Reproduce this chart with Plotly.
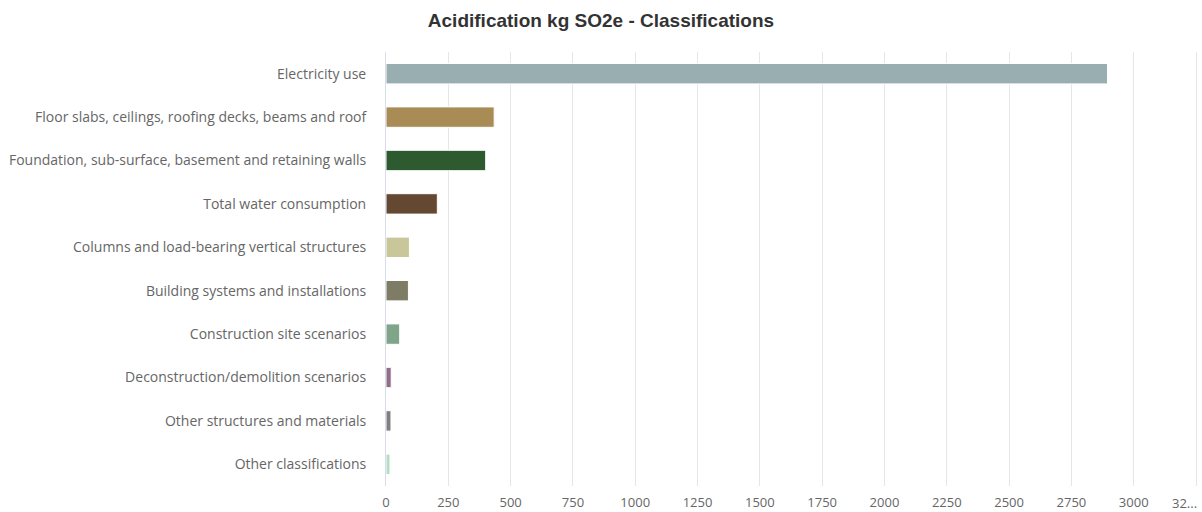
import plotly.graph_objects as go

# Acidification (kg SO2e) by building classification
categories = [
    "Electricity use",
    "Floor slabs, ceilings, roofing decks, beams and roof",
    "Foundation, sub-surface, basement and retaining walls",
    "Total water consumption",
    "Columns and load-bearing vertical structures",
    "Building systems and installations",
    "Construction site scenarios",
    "Deconstruction/demolition scenarios",
    "Other structures and materials",
    "Other classifications",
]
values = [2895, 434, 400, 206, 94, 90, 55, 21, 20, 16]
colors = [
    "#98aeb0", "#a98b55", "#2d5a2e", "#644832", "#c9c799",
    "#7f7c66", "#80a48a", "#8e6f87", "#7f7f7f", "#b5dcc5",
]
tick_values = [0, 250, 500, 750, 1000, 1250, 1500, 1750, 2000, 2250, 2500, 2750, 3000, 3250]
tick_labels = ["0", "250", "500", "750", "1000", "1250", "1500", "1750", "2000",
               "2250", "2500", "2750", "3000", ""]
# last tick sits on the right edge; its shortened label is right-aligned to it
edge_tick = tick_values[-1]
edge_label = "32..."

fig = go.Figure(
    go.Bar(
        x=values,
        y=categories,
        orientation="h",
        marker=dict(color=colors, line=dict(color="white", width=1)),
        width=0.47,
        hovertemplate="%{y}: %{x}<extra></extra>",
    )
)

fig.update_layout(
    width=1202,
    height=512,
    margin=dict(l=386, r=3, t=52, b=26, autoexpand=False),
    paper_bgcolor="white",
    plot_bgcolor="white",
    showlegend=False,
    title=dict(
        text="<b>Acidification kg SO2e - Classifications</b>",
        x=0.5,
        xref="container",
        xanchor="center",
        y=1 - 20 / 512,
        yref="container",
        yanchor="middle",
        font=dict(family="Liberation Sans, Arial, sans-serif", size=19, color="#333333"),
    ),
    font=dict(family="Open Sans, sans-serif", size=14, color="#666666"),
)

fig.add_annotation(
    x=edge_tick,
    xref="x",
    y=0,
    yref="paper",
    text=edge_label,
    showarrow=False,
    xanchor="right",
    yanchor="middle",
    xshift=2,
    yshift=-17,
    borderpad=0,
    font=dict(family="Open Sans, sans-serif", size=13, color="#666666"),
)

fig.update_xaxes(
    range=[0, 3262],
    tickvals=tick_values,
    ticktext=tick_labels,
    showgrid=True,
    gridcolor="#e6e6e6",
    gridwidth=1,
    zeroline=False,
    showline=False,
    ticks="",
    ticklabelstandoff=7,
    automargin=False,
    tickfont=dict(size=13, color="#666666"),
    fixedrange=True,
)

fig.update_yaxes(
    categoryorder="array",
    categoryarray=categories,
    autorange="reversed",
    showgrid=False,
    showline=True,
    linecolor="#d8dce6",
    linewidth=1,
    ticks="",
    ticklabelstandoff=16,
    automargin=False,
    tickfont=dict(size=14, color="#666666"),
    fixedrange=True,
)

fig.write_html("out.html")
